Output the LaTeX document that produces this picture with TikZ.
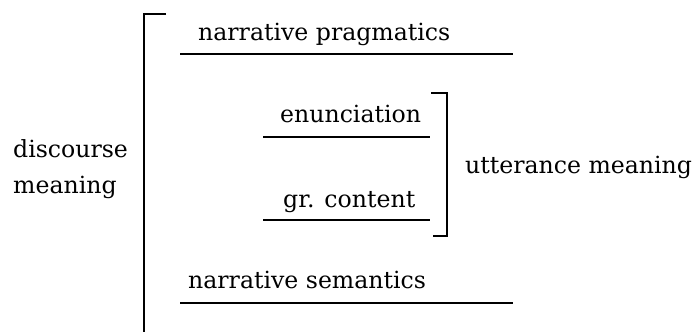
\documentclass[tikz,border=0pt]{standalone}
\usepackage{fontspec}
\setmainfont{DejaVu Serif}
\begin{document}
\begin{tikzpicture}[x=1pt,y=-1pt,
  lbl/.style={inner sep=0pt,anchor=base west,font=\fontsize{23.6}{28}\selectfont},
  rule/.style={line width=1.6pt},
  brk/.style={line width=1.6pt}]
\useasboundingbox (0,0) rectangle (697,332);
% labels
\node[lbl] (disc) at (13,157) {discourse};
\node[lbl] (mean) at (13,193) {meaning};
\node[lbl] (prag) at (198,41) {narrative pragmatics};
\node[lbl] (enun) at (280,122) {enunciation};
\node[lbl] (gr) at (283,207) {gr. content};
\node[lbl] (sem) at (188,288) {narrative semantics};
\node[lbl] (utt) at (465,173) {utterance meaning};
% rules under the labels
\coordinate (pragL) at (180,54);  \coordinate (pragR) at (513,54);
\coordinate (enunL) at (263,137); \coordinate (enunR) at (430,137);
\coordinate (grL) at (263,220);   \coordinate (grR) at (430,220);
\coordinate (semL) at (180,303);  \coordinate (semR) at (513,303);
\draw[rule] (pragL) -- (pragR);
\draw[rule] (enunL) -- (enunR);
\draw[rule] (grL) -- (grR);
\draw[rule] (semL) -- (semR);
% left bracket
\coordinate (lbTop) at (166,14);
\coordinate (lbBot) at (144,332);
\draw[brk] (lbTop) -- (144,14) -- (lbBot);
% right bracket
\coordinate (rbTop) at (431,93);
\coordinate (rbBot) at (433,236);
\draw[brk] (rbTop) -- (447,93) -- (447,236) -- (rbBot);
\end{tikzpicture}
\end{document}
